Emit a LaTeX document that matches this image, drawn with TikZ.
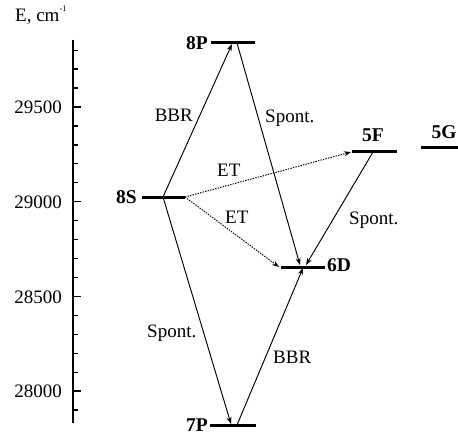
\documentclass[tikz,border=0pt]{standalone}
\usepackage{fontspec}
\setmainfont{Liberation Serif}
\usetikzlibrary{arrows.meta}
\begin{document}
\begin{tikzpicture}[x=1pt,y=-1pt,
  level/.style={line width=3pt},
  trans/.style={line width=0.95pt,-{Stealth[length=7pt,width=5pt]}},
  et/.style={trans,dash pattern=on 1.4pt off 1.2pt},
  lab/.style={inner sep=0pt,font=\fontsize{19}{20}\selectfont},
  term/.style={inner sep=0pt,font=\fontsize{19.5}{20}\selectfont\bfseries},
  axis/.style={line width=1.8pt},
  tick/.style={line width=1.3pt},
]
\useasboundingbox (0,0) rectangle (458,441);

% energy axis: k = (E-29000)/100, y = 201.7 - 18.94 k
\coordinate (axtop) at (73,40);
\coordinate (axbot) at (73,423);
\draw[axis] (axtop) -- (axbot);
\foreach \k in {-11,...,8}{
  \pgfmathsetmacro\yy{201.7-18.94*\k}
  \coordinate (m\k) at (73,\yy);
  \draw[tick] (m\k) -- ++(5,0);
}
\foreach \k/\e in {-10/28000,-5/28500,0/29000,5/29500}{
  \pgfmathsetmacro\yy{201.7-18.94*\k}
  \coordinate (M\k) at (73,\yy);
  \draw[tick] (M\k) -- ++(8,0);
  \node[lab,anchor=base east] (t\k) at (62,\yy+6.7) {\e};
}
\node[lab,anchor=base west] (elabel) at (15,22)
  {E, cm\raisebox{10pt}{\fontsize{8.5}{9}\selectfont -1}};

% levels
\coordinate (p8l) at (211,43);  \coordinate (p8r) at (255,43);
\coordinate (s8l) at (142,197); \coordinate (s8r) at (185,197);
\coordinate (d6l) at (281,267); \coordinate (d6r) at (325,267);
\coordinate (f5l) at (352,152); \coordinate (f5r) at (397,152);
\coordinate (g5l) at (421,148); \coordinate (g5r) at (458,148);
\coordinate (p7l) at (210,425); \coordinate (p7r) at (256,425);
\foreach \a/\b in {p8l/p8r,s8l/s8r,d6l/d6r,f5l/f5r,g5l/g5r,p7l/p7r}
  \draw[level] (\a) -- (\b);

\node[term,anchor=east] (n8P) at (208,43) {8P};
\node[term,anchor=east] (n8S) at (137,197) {8S};
\node[term,anchor=west] (n6D) at (327,265) {6D};
\node[term,anchor=south] (n5F) at (373,142) {5F};
\node[term,anchor=south] (n5G) at (444,139) {5G};
\node[term,anchor=east] (n7P) at (208,425) {7P};

% transition end points
\coordinate (s8a) at (163,197);
\coordinate (p8in) at (232,44);
\coordinate (p8out) at (237,43);
\coordinate (d6a) at (300,265);
\coordinate (d6b) at (306,265);
\coordinate (d6c) at (303,268);
\coordinate (d6d) at (279,267);
\coordinate (f5out) at (373,152);
\coordinate (f5in) at (351,152);
\coordinate (p7in) at (231,424);
\coordinate (p7out) at (237,425);

% transitions
\draw[trans] (s8a) -- (p8in);
\draw[trans] (p8out) -- (d6a);
\draw[trans] (f5out) -- (d6b);
\draw[trans] (p7out) -- (d6c);
\draw[trans] (s8a) -- (p7in);
\draw[et] (s8r) -- (f5in);
\draw[et] (s8r) -- (d6d);

% transition labels
\node[lab,anchor=base east] (lbbr1) at (193,122) {BBR};
\node[lab,anchor=base west] (lsp1) at (265,123) {Spont.};
\node[lab,anchor=base west] (let1) at (217,176) {ET};
\node[lab,anchor=base west] (let2) at (225,223) {ET};
\node[lab,anchor=base west] (lsp2) at (349,224) {Spont.};
\node[lab,anchor=base west] (lsp3) at (147,337) {Spont.};
\node[lab,anchor=base west] (lbbr2) at (273,363) {BBR};
\end{tikzpicture}
\end{document}
